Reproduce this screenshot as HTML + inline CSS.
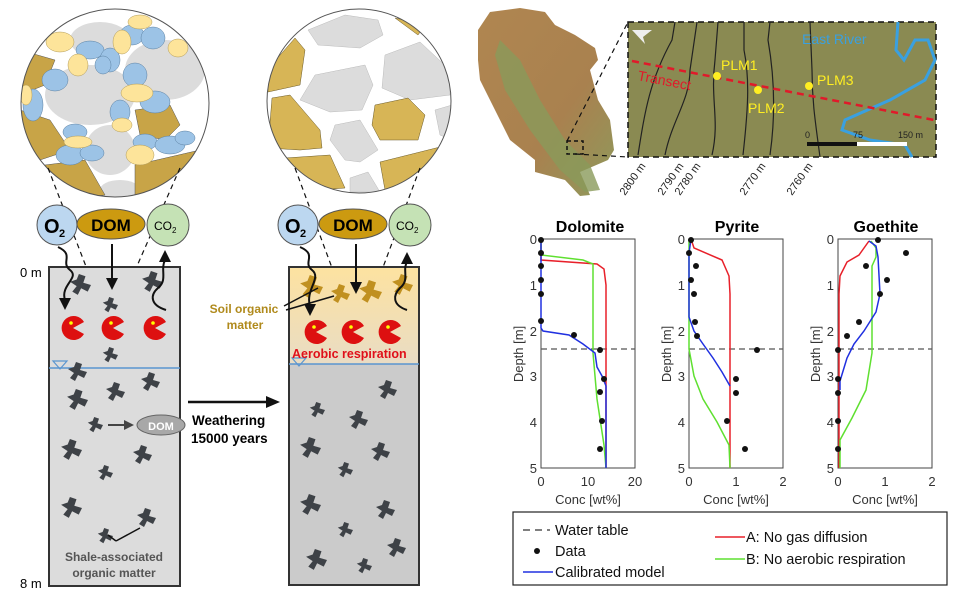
<!DOCTYPE html>
<html><head><meta charset="utf-8"><style>
html,body{margin:0;padding:0;background:#fff}
svg{display:block;font-family:"Liberation Sans",Arial,sans-serif}
</style></head><body>
<svg width="956" height="597" viewBox="0 0 956 597" xmlns="http://www.w3.org/2000/svg">
<defs>
<clipPath id="c1"><circle cx="115" cy="103" r="94"/></clipPath>
<clipPath id="c2"><circle cx="359" cy="101" r="92"/></clipPath>
<linearGradient id="soil" x1="0" y1="0" x2="0" y2="1"><stop offset="0" stop-color="#fde2a0"/><stop offset="1" stop-color="#e9dcc4"/></linearGradient>
<linearGradient id="terr" x1="0" y1="0" x2="1" y2="1"><stop offset="0" stop-color="#b08650"/><stop offset="0.6" stop-color="#a9814f"/><stop offset="1" stop-color="#8e9a5c"/></linearGradient>
<g id="som"><path d="M-9,-3 L-3,-5 L-1,-10 L5,-8 L3,-2 L10,0 L7,6 L1,3 L-2,9 L-7,6 L-3,1 Z" fill="#3e4247"/></g>
<g id="sg"><path d="M-9,-3 L-3,-5 L-1,-10 L5,-8 L3,-2 L10,0 L7,6 L1,3 L-2,9 L-7,6 L-3,1 Z" fill="#c09020"/></g>
<g id="pac"><path d="M0,0 L11,-6 A12,12 0 1 0 11,6 Z" fill="#dd1010"/><circle cx="-2" cy="-5" r="1.8" fill="#ff0"/></g>
</defs>

<g clip-path="url(#c1)">
<rect x="20" y="8" width="190" height="190" fill="#fff"/>
<ellipse cx="90" cy="95" rx="45" ry="30" fill="#dcdcdc"/><ellipse cx="165" cy="70" rx="40" ry="30" fill="#dcdcdc"/><ellipse cx="110" cy="150" rx="25" ry="25" fill="#dcdcdc"/><ellipse cx="120" cy="190" rx="20" ry="10" fill="#dcdcdc"/><ellipse cx="100" cy="40" rx="30" ry="18" fill="#dcdcdc"/>
<path d="M20,50 L55,60 L45,85 L20,95Z" fill="#c8a447" stroke="#555" stroke-width=".5"/>
<path d="M20,110 L50,120 L70,150 L40,160 L20,155Z" fill="#c8a447" stroke="#555" stroke-width=".5"/>
<path d="M45,165 L85,160 L105,195 L55,200Z" fill="#c8a447" stroke="#555" stroke-width=".5"/>
<path d="M135,165 L200,150 L200,200 L135,200Z" fill="#c8a447" stroke="#555" stroke-width=".5"/>
<path d="M135,110 L170,105 L180,125 L165,140 L140,135Z" fill="#c8a447" stroke="#555" stroke-width=".5"/>
<g fill="#9cc3e6" stroke="#5a7fa0" stroke-width=".5">
<ellipse cx="55" cy="80" rx="13" ry="11"/><ellipse cx="90" cy="50" rx="14" ry="9"/><ellipse cx="110" cy="60" rx="10" ry="12"/><ellipse cx="132" cy="35" rx="12" ry="10"/><ellipse cx="153" cy="38" rx="12" ry="11"/><ellipse cx="135" cy="75" rx="12" ry="12"/><ellipse cx="155" cy="102" rx="15" ry="11"/><ellipse cx="120" cy="112" rx="10" ry="12"/><ellipse cx="33" cy="105" rx="10" ry="16"/><ellipse cx="75" cy="132" rx="12" ry="8"/><ellipse cx="70" cy="155" rx="14" ry="10"/><ellipse cx="92" cy="153" rx="12" ry="8"/><ellipse cx="145" cy="142" rx="12" ry="8"/><ellipse cx="170" cy="145" rx="15" ry="9"/><ellipse cx="185" cy="138" rx="10" ry="7"/><ellipse cx="103" cy="65" rx="8" ry="9"/>
</g>
<g fill="#fde49a" stroke="#b09a5a" stroke-width=".5">
<ellipse cx="60" cy="42" rx="14" ry="10"/><ellipse cx="78" cy="65" rx="10" ry="11"/><ellipse cx="140" cy="22" rx="12" ry="7"/><ellipse cx="178" cy="48" rx="10" ry="9"/><ellipse cx="122" cy="42" rx="9" ry="12"/><ellipse cx="137" cy="93" rx="16" ry="9"/><ellipse cx="26" cy="95" rx="6" ry="10"/><ellipse cx="122" cy="125" rx="10" ry="7"/><ellipse cx="78" cy="142" rx="14" ry="6"/><ellipse cx="140" cy="155" rx="14" ry="10"/>
</g>
</g>
<circle cx="115" cy="103" r="94" fill="none" stroke="#555" stroke-width="1"/>

<g clip-path="url(#c2)">
<rect x="265" y="8" width="190" height="190" fill="#fff"/>
<g fill="#dcdcdc" stroke="#bbb" stroke-width=".5">
<path d="M308,30 L345,15 L378,20 L383,35 L360,48 L318,45Z"/>
<path d="M385,55 L420,42 L450,70 L450,95 L410,100 L382,88Z"/>
<path d="M315,75 L365,65 L373,85 L362,110 L330,112 L300,100Z"/>
<path d="M335,125 L360,120 L378,150 L360,162 L345,160 L330,140Z"/>
<path d="M435,110 L452,105 L452,140 L440,135Z"/>
<path d="M350,178 L368,172 L380,192 L350,192Z"/>
</g>
<g fill="#d7b556" stroke="#6a5a2a" stroke-width=".5">
<path d="M267,70 L295,38 L305,50 L300,85 L268,92Z"/>
<path d="M272,98 L290,95 L320,130 L322,148 L300,150 L268,148Z"/>
<path d="M375,105 L408,98 L425,115 L418,140 L380,140 L372,125Z"/>
<path d="M285,158 L330,155 L345,188 L290,192Z"/>
<path d="M380,162 L448,145 L448,190 L385,190Z"/>
<path d="M395,18 L425,25 L418,35Z"/>
</g>
</g>
<circle cx="359" cy="101" r="92" fill="none" stroke="#555" stroke-width="1"/>

<g stroke="#111" stroke-width="1.2" stroke-dasharray="5,4" fill="none">
<line x1="48" y1="168" x2="92" y2="282"/><line x1="180" y1="168" x2="130" y2="282"/>
<line x1="295" y1="168" x2="338" y2="284"/><line x1="420" y1="168" x2="382" y2="270"/>
</g>

<rect x="49" y="267" width="131" height="319" fill="#dcdcdc" stroke="#333" stroke-width="2"/>
<rect x="289" y="267" width="130" height="97" fill="url(#soil)"/>
<rect x="289" y="364" width="130" height="221" fill="#cbcbcb"/>
<rect x="289" y="267" width="130" height="318" fill="none" stroke="#333" stroke-width="2"/>
<line x1="49" y1="368" x2="180" y2="368" stroke="#5a95d0" stroke-width="1.5"/>
<path d="M53,361 L67,361 L60,369Z" fill="none" stroke="#5a95d0" stroke-width="1.2"/>
<line x1="289" y1="364" x2="419" y2="364" stroke="#5a95d0" stroke-width="1.5"/>
<path d="M292,358 L306,358 L299,366Z" fill="none" stroke="#5a95d0" stroke-width="1.2"/>
<text x="20" y="277" font-size="13">0 m</text>
<text x="20" y="588" font-size="13">8 m</text>

<g>
<use href="#som" transform="translate(80,285) scale(1.1)"/><use href="#som" transform="translate(110,305) scale(.8)"/><use href="#som" transform="translate(152,282) scale(1.1)"/>
<use href="#som" transform="translate(110,355) scale(.8)"/><use href="#som" transform="translate(77,372) scale(1)"/><use href="#som" transform="translate(77,400) scale(1.1)"/><use href="#som" transform="translate(115,392) scale(1)"/><use href="#som" transform="translate(150,382) scale(1)"/>
<use href="#som" transform="translate(95,425) scale(.8)"/><use href="#som" transform="translate(71,450) scale(1.1)"/><use href="#som" transform="translate(142,455) scale(1)"/><use href="#som" transform="translate(105,473) scale(.8)"/>
<use href="#som" transform="translate(71,508) scale(1.1)"/><use href="#som" transform="translate(146,518) scale(1)"/><use href="#som" transform="translate(105,536) scale(.8)"/>
<use href="#som" transform="translate(387,390) scale(1)"/><use href="#som" transform="translate(317,410) scale(.8)"/><use href="#som" transform="translate(358,420) scale(1)"/><use href="#som" transform="translate(310,448) scale(1.1)"/><use href="#som" transform="translate(380,452) scale(1)"/>
<use href="#som" transform="translate(345,470) scale(.8)"/><use href="#som" transform="translate(310,505) scale(1.1)"/><use href="#som" transform="translate(385,510) scale(1)"/><use href="#som" transform="translate(345,530) scale(.8)"/><use href="#som" transform="translate(316,560) scale(1.1)"/><use href="#som" transform="translate(396,548) scale(1)"/><use href="#som" transform="translate(364,566) scale(.8)"/>
</g>
<g><use href="#sg" transform="translate(311,287) scale(1.2)"/><use href="#sg" transform="translate(340,294) scale(1)"/><use href="#sg" transform="translate(370,292) scale(1.2)"/><use href="#sg" transform="translate(402,285) scale(1.1)"/></g>
<use href="#pac" transform="translate(73,328)"/><use href="#pac" transform="translate(113,328)"/><use href="#pac" transform="translate(155,328)"/>
<use href="#pac" transform="translate(316,332)"/><use href="#pac" transform="translate(353,332)"/><use href="#pac" transform="translate(390,332)"/>

<circle cx="57" cy="225" r="20" fill="#bcd7f0" stroke="#555"/><text x="44" y="233" font-size="20" font-weight="bold">O</text><text x="59" y="237" font-size="11" font-weight="bold">2</text>
<ellipse cx="111" cy="224" rx="34" ry="15" fill="#cc9a10" stroke="#555"/><text x="111" y="231" font-size="17" font-weight="bold" text-anchor="middle">DOM</text>
<circle cx="168" cy="225" r="21" fill="#c5e2b5" stroke="#555"/><text x="154" y="230" font-size="12">CO</text><text x="172" y="233" font-size="8">2</text>
<circle cx="298" cy="225" r="20" fill="#bcd7f0" stroke="#555"/><text x="285" y="233" font-size="20" font-weight="bold">O</text><text x="300" y="237" font-size="11" font-weight="bold">2</text>
<ellipse cx="353" cy="224" rx="34" ry="15" fill="#cc9a10" stroke="#555"/><text x="353" y="231" font-size="17" font-weight="bold" text-anchor="middle">DOM</text>
<circle cx="410" cy="225" r="21" fill="#c5e2b5" stroke="#555"/><text x="396" y="230" font-size="12">CO</text><text x="414" y="233" font-size="8">2</text>

<g stroke="#111" stroke-width="2" fill="none">
<path d="M58,247 C75,255 60,262 70,270 C80,278 60,285 65,300"/>
<line x1="112" y1="244" x2="112" y2="280"/>
<path d="M166,310 C150,305 150,295 158,288 C168,280 160,270 165,260"/>
<path d="M300,247 C318,255 302,262 312,270 C322,278 305,290 310,306"/>
<line x1="356" y1="244" x2="356" y2="284"/>
<path d="M407,310 C392,305 393,295 400,288 C410,280 402,270 407,262"/>
</g>
<g fill="#111"><path d="M59,298 L71,298 L65,310Z"/><path d="M106,278 L118,278 L112,290Z"/><path d="M159,262 L171,262 L165,250Z"/>
<path d="M304,304 L316,304 L310,316Z"/><path d="M350,282 L362,282 L356,294Z"/><path d="M401,264 L413,264 L407,252Z"/></g>
<g stroke="#111" stroke-width="1.5"><line x1="284" y1="306" x2="318" y2="288"/><line x1="286" y1="310" x2="334" y2="296"/>
<line x1="116" y1="541" x2="108" y2="535"/><line x1="116" y1="541" x2="140" y2="528"/></g>
<text x="244" y="313" font-size="12" font-weight="bold" fill="#b08a1c" text-anchor="middle">Soil organic</text>
<text x="245" y="329" font-size="12" font-weight="bold" fill="#b08a1c" text-anchor="middle">matter</text>
<text x="292" y="358" font-size="12.5" font-weight="bold" fill="#e0101a">Aerobic respiration</text>
<text x="114" y="561" font-size="12" font-weight="bold" fill="#555" text-anchor="middle">Shale-associated</text>
<text x="114" y="577" font-size="12" font-weight="bold" fill="#555" text-anchor="middle">organic matter</text>
<line x1="108" y1="425" x2="126" y2="425" stroke="#444" stroke-width="2"/><path d="M124,420 L134,425 L124,430Z" fill="#444"/>
<ellipse cx="161" cy="425" rx="24" ry="10" fill="#a8a8a8" stroke="#666"/><text x="161" y="430" font-size="11" font-weight="bold" fill="#fff" text-anchor="middle">DOM</text>
<line x1="188" y1="402" x2="268" y2="402" stroke="#111" stroke-width="2.5"/><path d="M266,396 L280,402 L266,408Z" fill="#111"/>
<text x="192" y="425" font-size="13.5" font-weight="bold">Weathering</text>
<text x="191" y="443" font-size="13.5" font-weight="bold">15000 years</text>

<path d="M478,30 L490,12 L520,8 L545,12 L555,25 L575,35 L595,48 L598,60 L590,70 L598,100 L610,120 L614,150 L608,160 L580,172 L590,195 L580,196 L565,180 L535,172 L535,160 L510,140 L495,110 L480,80 L478,60Z" fill="url(#terr)"/>
<path d="M500,40 L520,60 L540,100 L565,140 L590,165 L600,190 L585,192 L560,170 L530,130 L505,90 L495,55Z" fill="#8a9a5a" opacity=".8"/>
<rect x="567" y="141" width="16" height="13" fill="none" stroke="#111" stroke-width="1.5" stroke-dasharray="4,3"/>
<g stroke="#111" stroke-width="1.2" stroke-dasharray="5,4"><line x1="567" y1="141" x2="628" y2="22"/><line x1="575" y1="154" x2="628" y2="157"/></g>
<rect x="628" y="22" width="308" height="135" fill="#8a8a52" stroke="#111" stroke-width="1.5" stroke-dasharray="6,4"/>
<g stroke="#222" stroke-width="1.2" fill="none">
<path d="M638,155 C645,110 650,80 672,40 L675,22"/><path d="M665,155 C672,120 690,100 690,70 C693,50 695,35 697,22"/><path d="M712,155 C720,120 710,100 715,60 L718,22"/><path d="M743,155 C748,110 750,80 744,50 L744,22"/><path d="M770,155 C775,120 775,80 768,40 L770,22"/><path d="M820,157 C815,120 812,100 812,70 L810,22"/>
</g>
<path d="M898,22 L896,50 L904,60 L915,40 L928,40 L935,60 L925,80 L890,100 L845,120 L842,130 L870,140 L905,145 L912,157" stroke="#3aa0e0" stroke-width="3" fill="none"/>
<line x1="632" y1="61" x2="934" y2="120" stroke="#e01a2a" stroke-width="2.5" stroke-dasharray="7,5"/>
<path d="M632,30 L652,30 L643,37 L645,44Z" fill="#eee"/>
<text x="802" y="44" font-size="14" fill="#3aa0e0">East River</text>
<text x="637" y="80" font-size="14" fill="#e01a2a" transform="rotate(11 637 80)">Transect</text>
<g fill="#ffee22"><circle cx="717" cy="76" r="4"/><circle cx="758" cy="90" r="4"/><circle cx="809" cy="86" r="4"/></g>
<g font-size="14" fill="#ffee22"><text x="721" y="70">PLM1</text><text x="748" y="113">PLM2</text><text x="817" y="85">PLM3</text></g>
<g font-size="9" fill="#222"><text x="805" y="138">0</text><text x="853" y="138">75</text><text x="898" y="138">150 m</text></g>
<rect x="807" y="142" width="50" height="4" fill="#111"/><rect x="857" y="142" width="50" height="4" fill="#fff"/>
<g font-size="11" fill="#222">
<text transform="translate(625,196) rotate(-55)">2800 m</text><text transform="translate(663,196) rotate(-55)">2790 m</text><text transform="translate(680,196) rotate(-55)">2780 m</text><text transform="translate(745,196) rotate(-55)">2770 m</text><text transform="translate(792,196) rotate(-55)">2760 m</text>
</g>

<g font-size="16" font-weight="bold" text-anchor="middle"><text x="590" y="232">Dolomite</text><text x="737" y="232">Pyrite</text><text x="886" y="232">Goethite</text></g>
<g fill="none" stroke="#444" stroke-width="1"><rect x="541" y="239" width="94" height="229"/><rect x="689" y="239" width="94" height="229"/><rect x="838" y="239" width="94" height="229"/></g>
<g font-size="13" fill="#333" text-anchor="end">
<text x="537" y="244">0</text><text x="537" y="290">1</text><text x="537" y="336">2</text><text x="537" y="381">3</text><text x="537" y="427">4</text><text x="537" y="473">5</text>
<text x="685" y="244">0</text><text x="685" y="290">1</text><text x="685" y="336">2</text><text x="685" y="381">3</text><text x="685" y="427">4</text><text x="685" y="473">5</text>
<text x="834" y="244">0</text><text x="834" y="290">1</text><text x="834" y="336">2</text><text x="834" y="381">3</text><text x="834" y="427">4</text><text x="834" y="473">5</text>
</g>
<g font-size="13" fill="#333" text-anchor="middle">
<text x="541" y="486">0</text><text x="588" y="486">10</text><text x="635" y="486">20</text>
<text x="689" y="486">0</text><text x="736" y="486">1</text><text x="783" y="486">2</text>
<text x="838" y="486">0</text><text x="885" y="486">1</text><text x="932" y="486">2</text>
<text x="588" y="504">Conc [wt%]</text><text x="736" y="504">Conc [wt%]</text><text x="885" y="504">Conc [wt%]</text>
</g>
<g font-size="13" fill="#333" text-anchor="middle">
<text transform="translate(523,354) rotate(-90)">Depth [m]</text><text transform="translate(671,354) rotate(-90)">Depth [m]</text><text transform="translate(820,354) rotate(-90)">Depth [m]</text>
</g>
<g stroke="#555" stroke-width="1.2" stroke-dasharray="6,4"><line x1="541" y1="349" x2="635" y2="349"/><line x1="689" y1="349" x2="783" y2="349"/><line x1="838" y1="349" x2="932" y2="349"/></g>
<g fill="none" stroke-width="1.5">
<polyline stroke="#e8202a" points="541,239 541,260 597,264 604,269 606,285 606,468"/>
<polyline stroke="#5fe030" points="541,239 541,255 583,260 593,264 593,353 597,399 604,445 606,468"/>
<polyline stroke="#2030e0" points="541,239 541,328 543,331 569,335 583,344 595,353 597,367 602,376 606,386 606,468"/>
<polyline stroke="#e8202a" points="691,239 694,248 722,260 729,276 730,294 730,468"/>
<polyline stroke="#5fe030" points="689,239 689,349 694,376 703,399 717,422 729,445 730,468"/>
<polyline stroke="#2030e0" points="691,239 689,253 689,317 694,331 703,344 713,358 722,372 730,386"/>
<polyline stroke="#e8202a" points="869,241 859,255 847,262 840,276 839,294 839,468"/>
<polyline stroke="#5fe030" points="871,241 876,248 876,257 872,266 872,353 866,390 852,418 840,440 840,468"/>
<polyline stroke="#2030e0" points="869,241 876,246 878,257 880,294 876,312 864,331 854,344 847,358 840,381 840,390"/>
</g>
<g fill="#111">
<circle cx="541" cy="240" r="3"/><circle cx="541" cy="253" r="3"/><circle cx="541" cy="266" r="3"/><circle cx="541" cy="280" r="3"/><circle cx="541" cy="294" r="3"/><circle cx="541" cy="321" r="3"/><circle cx="574" cy="335" r="3"/><circle cx="600" cy="350" r="3"/><circle cx="604" cy="379" r="3"/><circle cx="600" cy="392" r="3"/><circle cx="602" cy="421" r="3"/><circle cx="600" cy="449" r="3"/>
<circle cx="691" cy="240" r="3"/><circle cx="689" cy="253" r="3"/><circle cx="696" cy="266" r="3"/><circle cx="691" cy="280" r="3"/><circle cx="694" cy="294" r="3"/><circle cx="695" cy="322" r="3"/><circle cx="697" cy="336" r="3"/><circle cx="757" cy="350" r="3"/><circle cx="736" cy="379" r="3"/><circle cx="736" cy="393" r="3"/><circle cx="727" cy="421" r="3"/><circle cx="745" cy="449" r="3"/>
<circle cx="878" cy="240" r="3"/><circle cx="906" cy="253" r="3"/><circle cx="866" cy="266" r="3"/><circle cx="887" cy="280" r="3"/><circle cx="880" cy="294" r="3"/><circle cx="859" cy="322" r="3"/><circle cx="847" cy="336" r="3"/><circle cx="838" cy="350" r="3"/><circle cx="838" cy="379" r="3"/><circle cx="838" cy="393" r="3"/><circle cx="838" cy="421" r="3"/><circle cx="838" cy="449" r="3"/>
</g>

<rect x="513" y="512" width="434" height="73" fill="#fff" stroke="#222" stroke-width="1.2"/>
<line x1="523" y1="530" x2="550" y2="530" stroke="#333" stroke-width="1.2" stroke-dasharray="7,5"/>
<circle cx="537" cy="551" r="3" fill="#111"/>
<line x1="523" y1="572" x2="553" y2="572" stroke="#2030e0" stroke-width="1.5"/>
<line x1="715" y1="537" x2="745" y2="537" stroke="#e8202a" stroke-width="1.5"/>
<line x1="715" y1="559" x2="745" y2="559" stroke="#5fe030" stroke-width="1.5"/>
<g font-size="14.5" fill="#111"><text x="555" y="535">Water table</text><text x="555" y="556">Data</text><text x="555" y="577">Calibrated model</text><text x="746" y="542">A: No gas diffusion</text><text x="746" y="564">B: No aerobic respiration</text></g>
</svg>
</body></html>
